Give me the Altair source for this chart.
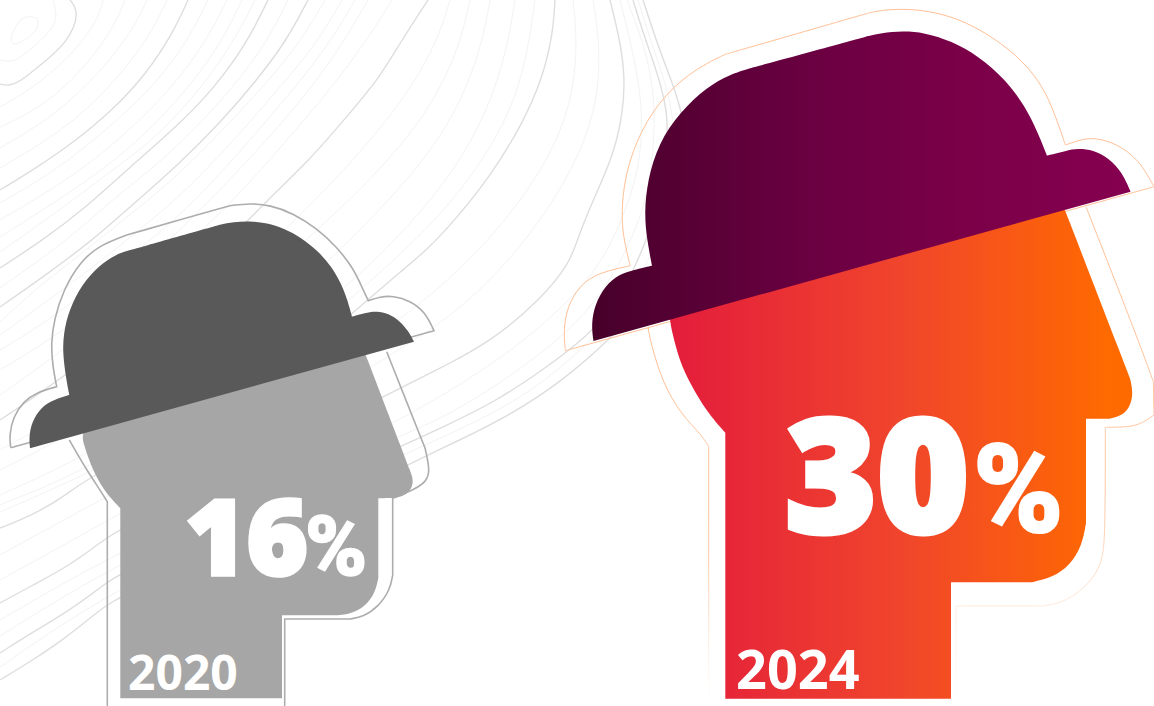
import altair as alt
import pandas as pd

W, H = 1154, 706
YEARS = ["2020", "2024"]
SHARES = [16, 30]

# Head and bowler-hat silhouettes; a repeated point is a sharp corner on the curve.
HEAD_2020 = [(90,415),(90,415),(81.7,435),(83.3,443),(91.7,468),(103.3,490),(120.3,508.3),(120.3,508.3),(120.3,698.3),(120.3,698.3),
             (282,698.3),(282,698.3),(282,615.3),(282,615.3),(338,615.3),(338,615.3),(350,614),(365,606.7),(375,593.3),(378.3,578.3),(378.3,578.3),
             (378.3,498.3),(378.3,498.3),(394,498),(394,498),(404,496),(411,490),(413.5,481),(411,473),(409,468),(409,468),(360,340),(360,340)]
HAT_2020 = [(30,448.3),(30,448.3),(29,436.7),(31.7,421.7),(41.7,406.7),(53.3,400),(69.3,395),(69.3,395),(66,378),(62.7,353.3),(63.5,333.3),
            (69,310),(82,284),(99,265.5),(116,254),(133.3,249.3),(133.3,249.3),(220,224.7),(220,224.7),(233.3,222),(250,221),(267,223),
            (284,228.5),(301,237.5),(318,251),(331,266),(341,283),(347.5,300),(352,316.7),(352,316.7),(366.7,312.7),(376.7,311.2),
            (388.3,313.5),(400,321),(408.3,331),(414,341.7),(414,341.7)]
HEAD_2024 = [(669,300),(669,300),(669.4,320),(674,340),(680,361.7),(690,383.3),(706.7,411.7),(725.3,432.7),(725.3,432.7),(725.3,698.7),(725.3,698.7),
             (951,698.7),(951,698.7),(951,582.3),(951,582.3),(1031.7,582.3),(1031.7,582.3),(1053.3,577.3),(1070,565),(1081.7,546.7),(1086,523.3),(1086,523.3),
             (1086,418.7),(1086,418.7),(1110,418.7),(1110,418.7),(1123.3,415),(1130,406.7),(1133.3,393.3),(1130,378.3),(1130,378.3),(1058,192),(1058,192)]
HAT_2024 = [(593.5,341),(593.5,341),(591.6,328.3),(593.1,310),(602,290),(615.5,276),(630.9,270.7),(652,265.7),(652,265.7),(647,240),(644.3,213.3),
            (647.5,180),(658.5,143.3),(680,112),(707,87),(730,74.5),(750.3,68.3),(750.3,68.3),(865.9,36.7),(865.9,36.7),(881.3,33),(902.5,31),
            (924,32.5),(951.5,41),(978.5,56),(1005.5,79.5),(1025,106),(1038,133),(1047,155.7),(1047,155.7),(1066.2,150.7),(1077.7,148.5),
            (1093,150),(1109,158),(1122.5,173),(1130.5,191.7),(1130.5,191.7)]

# Thin keylines that sit a little way outside each silhouette.
HALO_HAT_2020 = [(10.7,447.7),(10.7,447.7),(9.3,435),(13.3,416.7),(23.3,401.7),(36.7,392.3),(56.7,386.7),(56.7,386.7),(52.7,366.7),(51,343.3),(54,320),
                 (63.3,290),(80,261.7),(100,245),(126.7,235),(126.7,235),(230,205.7),(230,205.7),(250,203.3),(270,205),(293.3,213.3),(316.7,228.3),
                 (336.7,246.7),(353.3,268.3),(361.7,286.7),(368.3,300.7),(368.3,300.7),(380,296.7),(393.3,295.7),(410,300.7),(425,311.7),(434,330.7),(434,330.7),
                 (10.7,447.7),(10.7,447.7)]
HALO_FACE_2020 = [(386.7,351.7),(386.7,351.7),(425,448),(425,448),(430,470),(426.7,481.7),(413.3,490),(392.7,498.3),(392.7,498.3),(392.7,575),(392.7,575),
                  (390,590),(378.3,606.7),(363.3,616.7),(350,619),(350,619),(284.7,619),(284.7,619),(284.7,706),(284.7,706)]
HALO_BACK_2020 = [(69.3,440),(75,450),(86.7,470),(100,490),(107.3,501.7),(107.3,501.7),(107.3,706),(107.3,706)]
HALO_HAT_2024 = [(565.4,350.7),(565.4,350.7),(563.5,330),(567.3,306.7),(578.9,286.7),(596.2,273.3),(630.1,265.7),(630.1,265.7),(623.2,236.7),(621.3,213.3),
                 (625.1,173.3),(640.5,130),(665.6,93.3),(696.4,68.3),(725.3,54.3),(725.3,54.3),(869.7,12.7),(869.7,12.7),(885,9.7),(904.4,9),(927.5,10.7),
                 (958.3,18.3),(993,36.7),(1023.8,61.7),(1043,86.7),(1054.6,113.3),(1065.4,145),(1065.4,145),(1081.6,139.3),(1095,137.7),(1116.3,143.3),
                 (1139.4,160),(1154,186.7),(1154,186.7),(565.4,350.7),(565.4,350.7)]
HALO_FACE_2024 = [(1086,206.7),(1086,206.7),(1138.3,340),(1153.3,381.7),(1153.3,381.7),(1154,415),(1154,415),(1140,425),(1123.3,427.3),(1105.3,427.3),(1105.3,427.3),
                  (1105.3,540),(1101.7,563.3),(1090,583.3),(1066.7,601.7),(1043.3,606),(1043.3,606),(956,606),(956,606),(956,706),(956,706)]
HALO_BACK_2024 = [(648,328),(651.7,346.7),(663,383),(680,413),(703,436.7),(708.7,446.7),(708.7,446.7),(708.7,706),(708.7,706)]

# Background contour lines, heavier and lighter.
CONTOURS_HEAVY = [
    [(70,0),(80,13),(67,43),(43,63),(20,82),(8,86),(0,84)],
    [(188,0),(173,33),(147,73),(113,110),(73,143),(33,170),(0,190)],
    [(268,0),(247,43),(213,90),(173,130),(130,167),(83,210),(43,240),(0,268)],
    [(308,0),(287,40),(257,80),(220,123),(180,163),(130,207),(93,240),(43,277),(0,307)],
    [(428,0),(400,43),(380,77),(350,113),(307,163),(267,200),(250,220),(150,310),(60,380),(0,420)],
    [(555,0),(553,33),(543,77),(523,123),(490,177),(455,220),(427,250),(400,272),(368,300),(250,400),(93,473),(67,495),(33,515),(0,528)],
    [(610,0),(620,40),(625,77),(623,113),(613,157),(593,200),(577,240),(570,263),(540,300),(493,340),(443,367),(400,388),(300,440),(120,528),(100,543),(67,567),(33,585),(0,603)],
    [(633,0),(643,33),(660,80),(667,113),(668,133),(660,200),(647,240),(620,300),(587,337),(543,370),(493,403),(443,427),(400,447),(300,490),(120,572),(100,588),(67,612),(33,632),(0,653)],
    [(643,0),(657,43),(670,77),(683,113),(690,170),(680,230),(655,290),(613,337),(560,383),(510,415),(460,440),(407,465),(300,520),(120,595),(100,610),(67,637),(33,660),(0,680)],
]
CONTOURS_LIGHT = [
    [(37,18),(39,25),(33,35),(20,43),(12,45),(10,38),(17,23),(25,16),(33,17),(37,18)],
    [(53,0),(58,18),(50,32),(30,50),(13,63),(0,60)],
    [(103,0),(97,23),(67,60),(30,90),(0,107)],
    [(125,0),(113,30),(77,77),(37,110),(0,127)],
    [(147,0),(133,30),(100,73),(53,117),(0,148)],
    [(167,0),(153,30),(123,73),(70,127),(0,168)],
    [(208,0),(190,37),(157,83),(110,127),(57,170),(0,203)],
    [(227,0),(207,40),(173,87),(127,133),(73,177),(0,220)],
    [(242,0),(222,42),(187,90),(143,137),(90,180),(0,237)],
    [(255,0),(233,43),(200,90),(157,137),(113,170),(50,217),(0,252)],
    [(288,0),(267,42),(235,85),(197,127),(157,165),(108,203),(68,240),(0,288)],
    [(325,0),(300,43),(263,87),(220,133),(170,183),(123,220),(80,255),(40,285),(0,322)],
    [(342,0),(317,43),(280,87),(237,137),(187,190),(143,227),(90,270),(0,335)],
    [(355,0),(330,43),(293,90),(250,140),(203,193),(160,233),(100,280),(50,320),(0,350)],
    [(368,0),(345,40),(310,90),(267,140),(220,190),(177,233),(110,295),(50,340),(0,370)],
    [(392,0),(367,40),(330,90),(287,140),(237,197),(195,237),(120,305),(50,360),(0,395)],
    [(450,0),(438,40),(410,90),(375,135),(335,180),(285,230),(200,310),(100,395),(0,450)],
    [(470,0),(460,45),(435,100),(398,150),(350,200),(300,245),(200,340),(100,420),(0,470)],
    [(490,0),(482,45),(460,105),(425,160),(375,215),(320,270),(200,375),(100,450),(0,495)],
    [(515,0),(507,50),(488,110),(455,170),(410,225),(350,285),(250,365),(100,465),(0,505)],
    [(535,0),(528,50),(515,100),(490,150),(450,205),(405,250),(350,300),(250,380),(120,460),(0,512)],
    [(573,0),(578,50),(570,110),(545,165),(510,215),(470,260),(420,305),(350,355),(250,420),(100,500),(0,555)],
    [(593,0),(600,45),(598,100),(580,155),(548,210),(510,260),(460,310),(400,350),(250,440),(100,525),(0,580)],
    [(620,0),(635,60),(643,110),(640,170),(620,225),(600,265),(570,300),(520,345),(460,385),(400,420),(300,470),(120,550),(0,620)],
    [(627,0),(650,60),(656,120),(650,190),(632,240),(605,290),(570,330),(520,370),(450,415),(400,436),(300,480),(120,561),(0,636)],
    [(638,0),(652,45),(668,90),(675,130),(675,180),(665,225),(637,285),(600,332),(550,378),(500,410),(450,434),(400,456),(300,505),(120,584),(0,667)],
]

HEAD_STOPS_2024 = [(0, "#e31c3c"), (0.5, "#f0452c"), (0.95, "#ff6a00"), (1, "#ff6a00")]
HAT_STOPS_2024 = [(0, "#47002a"), (0.4, "#6a0041"), (0.7, "#7b0048"), (1, "#850050")]
HALO_STOPS_2024 = [(0, "#ffbd8f"), (0.6, "#ffc9a6"), (0.85, "#fff0e6"), (1, "#ffffff")]

x_enc = alt.X("x:Q", scale=alt.Scale(domain=[0, W], range=[0, W], nice=False, zero=False), axis=None)
y_enc = alt.Y("y:Q", scale=alt.Scale(domain=[0, H], range=[0, H], nice=False, zero=False), axis=None)


def table(points):
    # A B-spline only turns sharply on a triple knot, so a doubled point gets one more copy.
    rows = []
    for p in points:
        if rows and rows[-1] == p:
            rows.append(p)
        rows.append(p)
    return pd.DataFrame({"x": [p[0] for p in rows], "y": [p[1] for p in rows], "i": range(len(rows))})


def gradient(stops, vertical=False):
    return alt.Gradient(
        gradient="linear", x1=0, y1=0, x2=0 if vertical else 1, y2=1 if vertical else 0,
        stops=[alt.GradientStop(offset=o, color=c) for o, c in stops],
    )


def solid(points, fill):
    return alt.Chart(table(points)).mark_line(
        interpolate="basis", fill=fill, stroke="transparent", strokeWidth=0
    ).encode(x=x_enc, y=y_enc, order="i:Q")


def keyline(points, stroke, width):
    return alt.Chart(table(points)).mark_line(
        interpolate="basis", stroke=stroke, strokeWidth=width, clip=True
    ).encode(x=x_enc, y=y_enc, order="i:Q")


def contours(lines, stroke, width):
    return [
        alt.Chart(table(line)).mark_line(interpolate="basis", stroke=stroke, strokeWidth=width, clip=True)
        .encode(x=x_enc, y=y_enc, order="i:Q")
        for line in lines
    ]


def label(text, x, y, size, weight, font="Noto Sans", outline=0):
    data = pd.DataFrame({"x": [x], "y": [y], "t": [text]})
    return alt.Chart(data).mark_text(
        font=font, fontWeight=weight, fontSize=size, color="#ffffff", align="left", baseline="alphabetic",
        stroke="#ffffff", strokeWidth=outline,
    ).encode(x=x_enc, y=y_enc, text="t:N")


layers = contours(CONTOURS_LIGHT, "#f3f3f3", 1) + contours(CONTOURS_HEAVY, "#dedede", 1.4)
layers += [
    keyline(HALO_HAT_2020, "#adadad", 1.6),
    keyline(HALO_FACE_2020, "#adadad", 1.6),
    keyline(HALO_BACK_2020, "#adadad", 1.6),
    keyline(HALO_HAT_2024, "#ffc096", 1),
    keyline(HALO_FACE_2024, gradient(HALO_STOPS_2024, vertical=True), 1),
    keyline(HALO_BACK_2024, gradient(HALO_STOPS_2024, vertical=True), 1),
    solid(HEAD_2020, "#a6a6a6"),
    solid(HAT_2020, "#595959"),
    solid(HEAD_2024, gradient(HEAD_STOPS_2024)),
    solid(HAT_2024, gradient(HAT_STOPS_2024)),
    label(str(SHARES[0]), 185, 575, 105, 900, outline=3.5),
    label("%", 305, 575, 84, 900, font="Roboto", outline=1.5),
    label(str(SHARES[1]), 785, 532, 157, 900, outline=5),
    label("%", 973, 532, 122, 900, font="Roboto", outline=2),
    label(YEARS[0], 128, 690, 48, 700),
    label(YEARS[1], 736, 689, 54, 700),
]

chart = (
    alt.layer(*layers)
    .properties(width=W, height=H, padding=0, background="#ffffff")
    .configure_view(stroke=None)
)
chart.save("out.html", embed_options={"renderer": "svg", "actions": False})
